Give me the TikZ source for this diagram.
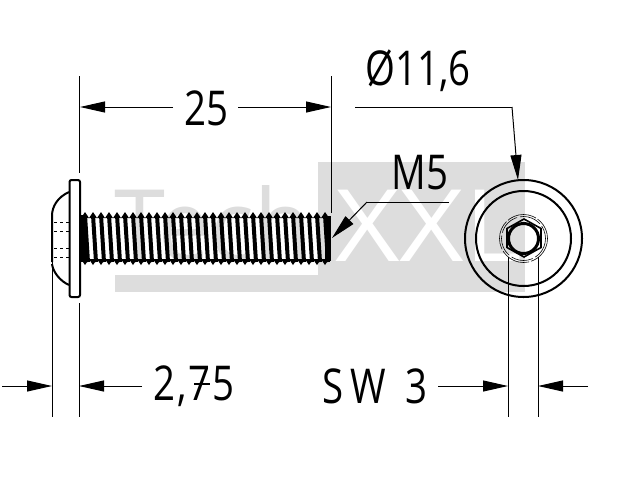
\documentclass[tikz,border=0pt]{standalone}
\usepackage{graphicx}
\usepackage{fontspec}
\setmainfont{Open Sans}
\usetikzlibrary{arrows.meta, positioning}
\definecolor{wmgray}{gray}{0.865}
\newcommand{\dimstr}[1]{\scalebox{0.8}[1]{#1}}
\tikzset{
  dimline/.style={line width=1pt},
  bodyline/.style={line width=2pt},
  dimarrow/.style={-{Triangle[length=25pt,width=11pt]}, line width=1pt},
  dimtext/.style={font=\fontsize{48}{48}\selectfont, inner sep=0pt, anchor=base},
  wmtext/.style={font=\fontsize{100}{100}\selectfont, inner sep=0pt, anchor=base west}
}
\begin{document}
\begin{tikzpicture}[x=1pt,y=-1pt]
  \useasboundingbox (0,0) rectangle (640,480);

  % Watermark
  \fill[wmgray] (115,275) rectangle (318,292);
  \fill[wmgray] (318,162) rectangle (525,292);
  \node[wmtext, text=wmgray] (wmtech) at (114,261) {\scalebox{0.92}[1]{Tech}};
  \node[wmtext, text=white] (wmxxl) at (335,261) {\scalebox{1.12}[1]{XXL}};

  % Screw, side view
  \foreach \i in {0,...,30} {
    \draw[line width=4pt] ({85+8*\i},215) -- ({88+8*\i},262);
  }
  \foreach \i in {0,...,30} {
    \fill ({81+8*\i},218) -- ({85+8*\i},212) -- ({89+8*\i},218) -- cycle;
    \fill ({81+8*\i},259) -- ({85+8*\i},265) -- ({89+8*\i},259) -- cycle;
  }
  \draw[line width=5pt] (83,215) -- (83,262);
  \draw[line width=6pt] (328,216) -- (328,261);
  \draw[bodyline, rounded corners=2pt, fill=white] (69.5,180) rectangle (80,297);
  \draw[bodyline] (69,192) .. controls (58,197) and (52,206) .. (52,216) -- (52,262);
  \draw[bodyline] (52,264) .. controls (53,272) and (60,281) .. (69,285);
  \foreach \y in {222,231,248,257} {
    \draw[line width=0.6pt, dashed] (54,\y) -- (69,\y);
  }

  % Screw, end view
  \coordinate (headc) at (523.5,238.5);
  \draw[bodyline] (headc) circle (58.5);
  \draw[bodyline] (headc) circle (47.5);
  \draw[line width=0.6pt, dash pattern=on 30pt off 2pt] (headc) circle (24);
  \draw[line width=0.6pt, dash pattern=on 22pt off 3pt] (headc) circle (22);
  \draw[line width=1.6pt] (524,219) -- (541,228.5) -- (541,247.5) -- (524,257) -- (507,247.5) -- (507,228.5) -- cycle;
  \draw[line width=3pt] (headc) circle (15);

  % Dimension 25
  \coordinate (leftup) at (79,76);
  \coordinate (leftdown) at (79,173);
  \coordinate (rightup) at (331,76);
  \coordinate (rightdown) at (331,213);
  \draw[dimline] (leftup) -- (leftdown);
  \draw[dimline] (rightup) -- (rightdown);
  \node[dimtext] (lenlabel) at (206,125) {\dimstr{25}};
  \coordinate (lenleft) at (173,107);
  \coordinate (lenright) at (238,107);
  \draw[dimarrow] (lenleft) -- (80,107);
  \draw[dimarrow] (lenright) -- (331,107);

  % Dimension diameter
  \node[dimtext] (diamlabel) at (418,85) {\dimstr{Ø11,6}};
  \coordinate (diamstart) at (355,107);
  \coordinate (diamknee) at (512,107);
  \coordinate (diamtip) at (518,180);
  \draw[dimline] (diamstart) -- (diamknee);
  \draw[dimarrow] (diamknee) -- (diamtip);

  % Thread callout
  \node[dimtext] (threadlabel) at (420,189) {\dimstr{M5}};
  \coordinate (threadknee) at (367,202);
  \coordinate (threadend) at (449,202);
  \coordinate (threadtip) at (332,238);
  \draw[dimline] (threadend) -- (threadknee);
  \draw[dimarrow] (threadknee) -- (threadtip);

  % Dimension 2,75
  \coordinate (washtop) at (52,262);
  \coordinate (washbot) at (52,417);
  \coordinate (flangetop) at (79,303);
  \coordinate (flangebot) at (79,417);
  \draw[dimline] (washtop) -- (washbot);
  \draw[dimline] (flangetop) -- (flangebot);
  \node[dimtext] (flangelabel) at (194,400) {\dimstr{2\hspace{2pt},\hspace{2pt}7\hspace{2pt}5}};
  \draw[line width=2.5pt] (194,384) -- (210,384);
  \coordinate (flangeleft) at (2,386);
  \coordinate (flangeright) at (142,386);
  \draw[dimarrow] (flangeleft) -- (52,386);
  \draw[dimarrow] (flangeright) -- (79,386);

  % Dimension SW
  \coordinate (swlefttop) at (508,257);
  \coordinate (swleftbot) at (508,417);
  \coordinate (swrighttop) at (538,257);
  \coordinate (swrightbot) at (538,417);
  \draw[dimline] (swlefttop) -- (swleftbot);
  \draw[dimline] (swrighttop) -- (swrightbot);
  \node[dimtext] (swlabel) at (375,403) {\dimstr{S\hspace{9pt}W\hspace{24pt}3}};
  \coordinate (swleft) at (438,386);
  \coordinate (swright) at (588,386);
  \draw[dimarrow] (swleft) -- (508,386);
  \draw[dimarrow] (swright) -- (538,386);
\end{tikzpicture}
\end{document}
